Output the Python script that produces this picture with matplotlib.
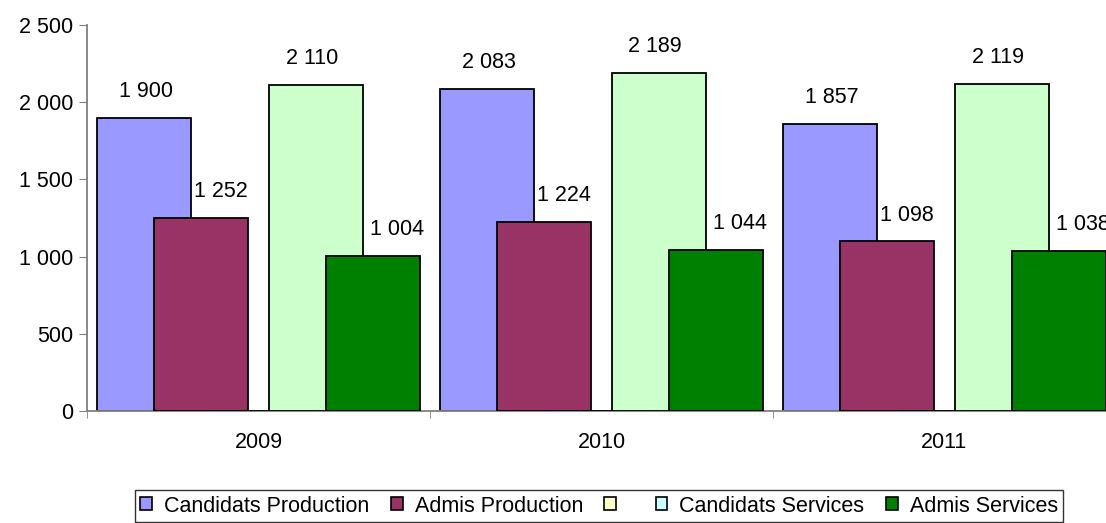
import matplotlib.pyplot as plt
from matplotlib.patches import Patch

plt.rcParams['font.family'] = ['Liberation Sans', 'DejaVu Sans']

years = ['2009', '2010', '2011']
series = ['Candidats Production', 'Admis Production', ' ',
          'Candidats Services', 'Admis Services']
cand_prod = [1900, 2083, 1857]
admis_prod = [1252, 1224, 1098]
empty_series = [0, 0, 0]
cand_serv = [2110, 2189, 2119]
admis_serv = [1004, 1044, 1038]
values = [cand_prod, admis_prod, empty_series, cand_serv, admis_serv]

bar_colors = ['#9999FF', '#993366', '#FFFFCC', '#CCFFCC', '#008000']
legend_colors = ['#9999FF', '#993366', '#FFFFCC', '#CCFFFF', '#008000']
# label x-shift in points (Excel places some labels off-centre)
label_dx = [1.5, 14, 0, -3, 17]
FS = 15.5

fig = plt.figure(figsize=(11.06, 5.23), dpi=100)
ax = fig.add_axes([87 / 1106, 112 / 523, 1029 / 1106, 386 / 523])

step = 0.1676
width = 0.274
for i, (vals, col) in enumerate(zip(values, bar_colors)):
    xs = [k + 0.5 + (i - 2) * step for k in range(len(years))]
    ax.bar(xs, vals, width=width, color=col, edgecolor='black',
           linewidth=1.3, zorder=2 + i)
    for x, v in zip(xs, vals):
        if v == 0:
            continue
        ax.annotate(f'{v:,}'.replace(',', ' '), (x, v),
                    xytext=(label_dx[i], 19), textcoords='offset points',
                    ha='center', va='center', fontsize=FS, zorder=10,
                    annotation_clip=False)

ax.set_xlim(0, 3)
ax.set_ylim(0, 2500)
ax.set_yticks(range(0, 2501, 500))
ax.set_yticklabels([f'{t:,}'.replace(',', ' ') for t in range(0, 2501, 500)])
ax.set_xticks([0.5, 1.5, 2.5])
ax.set_xticklabels(years)
ax.set_xticks([0, 1, 2, 3], minor=True)
ax.tick_params(axis='x', which='major', length=0, pad=15, labelsize=FS)
ax.tick_params(axis='x', which='minor', length=5, color='#808080')
ax.tick_params(axis='y', length=6, color='#808080', labelsize=FS, pad=4)

for side in ['top', 'right']:
    ax.spines[side].set_visible(False)
for side in ['left', 'bottom']:
    ax.spines[side].set_color('#808080')
    ax.spines[side].set_linewidth(1.3)

handles = [Patch(facecolor=c, edgecolor='black', linewidth=1.2)
           for c in legend_colors]
fig.legend(handles, series, loc='lower center', ncol=5,
           bbox_to_anchor=(0.5416, 0.0), fontsize=FS, frameon=True,
           fancybox=False, edgecolor='black', handlelength=0.55,
           handleheight=0.55, handletextpad=0.55, columnspacing=1.0,
           borderpad=0.25, borderaxespad=0.05)

fig.savefig('out.png', dpi=100)
